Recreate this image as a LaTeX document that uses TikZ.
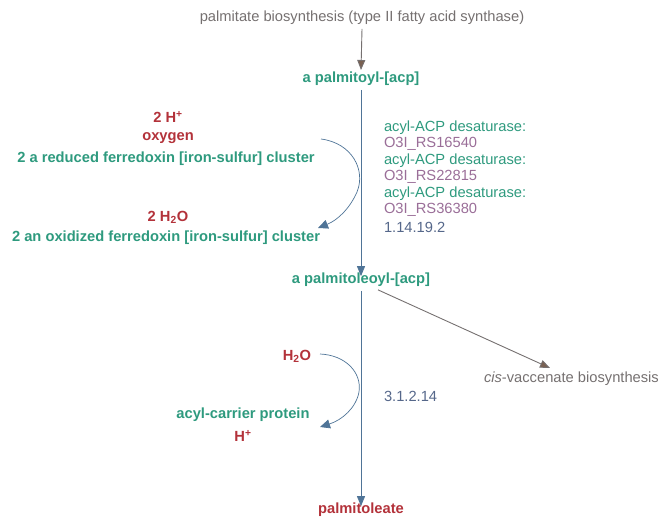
\documentclass[tikz,border=0pt]{standalone}
\usepackage{fontspec}
\setmainfont{Liberation Sans}
\usetikzlibrary{arrows.meta}
\definecolor{cpd}{HTML}{2E9A7E}
\definecolor{ion}{HTML}{B3323A}
\definecolor{gene}{HTML}{9A6E98}
\definecolor{ec}{HTML}{55678A}
\definecolor{link}{HTML}{757070}
\definecolor{rxn}{HTML}{4F7497}
\definecolor{pw}{HTML}{7A6152}
\tikzset{
  every node/.style={inner sep=0pt, outer sep=0pt, font=\fontsize{14.7}{17}\selectfont},
  main/.style={font=\fontsize{14.7}{17}\selectfont\bfseries, text=cpd},
  small/.style={font=\fontsize{14.7}{17}\selectfont\bfseries, text=ion},
  pathway/.style={text=link},
  enz/.style={text=cpd, anchor=west},
  gn/.style={text=gene, anchor=west},
  ecn/.style={text=ec, anchor=west},
  rline/.style={draw=rxn, line width=0.9pt, -{Triangle[length=10pt,width=8pt]}},
  pline/.style={draw=link, line width=0.9pt, -{Triangle[length=10pt,width=8pt,fill=pw]}},
  side/.style={draw=rxn, line width=0.7pt, -{Triangle[length=10pt,width=9pt]}},
}
\begin{document}
\begin{tikzpicture}[x=1pt,y=-1pt]
\useasboundingbox (0,0) rectangle (661,519);

% pathway links
\node[pathway] (pin) at (362,18) {palmitate biosynthesis (type II fatty acid synthase)};
\node[pathway, anchor=west] (pout) at (484,379) {\textit{cis}-vaccenate biosynthesis};

% main compounds
\node[main] (c1) at (361,79) {a palmitoyl-[acp]};
\node[main] (c2) at (361,280) {a palmitoleoyl-[acp]};
\node[main, text=ion] (c3) at (361,510) {palmitoleate};

% main arrows
\draw[pline] (pin.south) ++(0,4) coordinate (a0) -- (361,70) coordinate (a1);
\draw[rline] (c1.south) ++(0,4) -- ([yshift=-3pt]c2.north);
\draw[rline] (c2.south) ++(0,4) -- ([yshift=-3pt]c3.north);
\draw[pline] (c2.south) ++(17,3) -- (550,368) coordinate (a2);

% first reaction: side compounds
\node[small] (s1) at (168,117) {2 H\textsuperscript{+}};
\node[small] (s2) at (168,138) {oxygen};
\node[main] (s3) at (166,159) {2 a reduced ferredoxin [iron-sulfur] cluster};
\node[small] (s4) at (168,217) {2 H\textsubscript{2}O};
\node[main] (s5) at (166,238) {2 an oxidized ferredoxin [iron-sulfur] cluster};
\coordinate (u1) at (321,139);
\coordinate (u2) at (318,228);
\draw[side] (u1) .. controls (352,143) and (366,170) .. (357,192)
  .. controls (350,208) and (338,220) .. (u2);

% first reaction: enzymes
\node[enz] (e1) at (384,128) {acyl-ACP desaturase:};
\node[gn] (g1) at (384,144) {O3I\_RS16540};
\node[enz] (e2) at (384,161) {acyl-ACP desaturase:};
\node[gn] (g2) at (384,177) {O3I\_RS22815};
\node[enz] (e3) at (384,194) {acyl-ACP desaturase:};
\node[gn] (g3) at (384,210) {O3I\_RS36380};
\node[ecn] (ec1) at (384,227) {1.14.19.2};

% second reaction: side compounds
\node[small] (t1) at (297,356) {H\textsubscript{2}O};
\node[main] (t2) at (243,415) {acyl-carrier protein};
\node[small] (t3) at (243,436) {H\textsuperscript{+}};
\coordinate (v1) at (320,354);
\coordinate (v2) at (320,427);
\draw[side] (v1) .. controls (345,355) and (362,372) .. (359,392)
  .. controls (356,408) and (342,420) .. (v2);
\node[ecn] (ec2) at (384,396) {3.1.2.14};
\end{tikzpicture}
\end{document}
